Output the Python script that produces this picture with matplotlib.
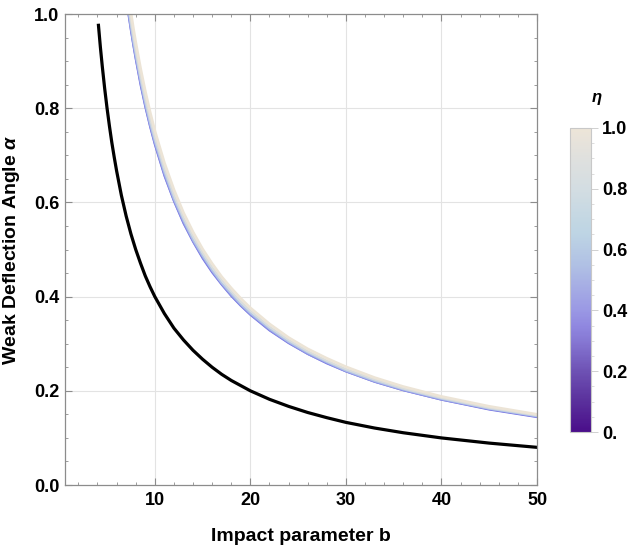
import numpy as np
import matplotlib
matplotlib.use("Agg")
from matplotlib import pyplot as plt
from matplotlib.colors import LinearSegmentedColormap, Normalize
from matplotlib.cm import ScalarMappable
from matplotlib.ticker import MultipleLocator

plt.rcParams['font.family'] = ['Liberation Sans', 'DejaVu Sans']
plt.rcParams['mathtext.fontset'] = 'custom'
plt.rcParams['mathtext.it'] = 'Liberation Sans:italic:bold'
plt.rcParams['mathtext.rm'] = 'Liberation Sans:bold'

# black curve (reference)
b_black = [4.1, 4.3, 4.5, 4.75, 5, 5.25, 5.5, 5.75, 6, 6.5, 7, 7.5, 8, 8.5, 9,
           9.5, 10, 11, 12, 13, 14, 15, 16, 17, 18, 19, 20, 22, 24, 26, 28,
           30, 33, 36, 40, 45, 50]
alpha_black = [0.976, 0.930, 0.889, 0.842, 0.800, 0.762, 0.727, 0.696, 0.667,
               0.615, 0.571, 0.533, 0.500, 0.471, 0.444, 0.421, 0.400, 0.364,
               0.333, 0.308, 0.286, 0.267, 0.250, 0.235, 0.222, 0.211, 0.200,
               0.182, 0.167, 0.154, 0.143, 0.133, 0.121, 0.111, 0.100, 0.089,
               0.080]

# coloured band, one curve per eta
b_band = [7.0, 7.25, 7.5, 7.75, 8, 8.5, 9, 9.5, 10, 11, 12, 13, 14, 15, 16,
          17, 18, 19, 20, 22, 24, 26, 28, 30, 33, 36, 40, 45, 50]
eta_vals = [0.0, 0.25, 0.5, 0.75, 1.0]
alpha_eta0 = [1.031, 0.996, 0.963, 0.932, 0.903, 0.849, 0.802, 0.760, 0.722,
              0.656, 0.602, 0.555, 0.516, 0.481, 0.451, 0.425, 0.401, 0.380,
              0.361, 0.328, 0.301, 0.278, 0.258, 0.241, 0.219, 0.201, 0.181,
              0.160, 0.144]
alpha_eta025 = [1.034, 0.999, 0.965, 0.934, 0.905, 0.852, 0.804, 0.762, 0.724,
                0.658, 0.603, 0.557, 0.517, 0.483, 0.453, 0.426, 0.402, 0.381,
                0.362, 0.329, 0.302, 0.278, 0.259, 0.241, 0.219, 0.201, 0.181,
                0.161, 0.145]
alpha_eta05 = [1.043, 1.007, 0.973, 0.942, 0.913, 0.859, 0.811, 0.768, 0.730,
               0.664, 0.608, 0.562, 0.521, 0.487, 0.456, 0.429, 0.406, 0.384,
               0.365, 0.332, 0.304, 0.281, 0.261, 0.243, 0.221, 0.203, 0.183,
               0.162, 0.146]
alpha_eta075 = [1.056, 1.019, 0.985, 0.954, 0.924, 0.869, 0.821, 0.778, 0.739,
                0.672, 0.616, 0.568, 0.528, 0.493, 0.462, 0.435, 0.411, 0.389,
                0.370, 0.336, 0.308, 0.284, 0.264, 0.246, 0.224, 0.205, 0.185,
                0.164, 0.148]
alpha_eta1 = [1.074, 1.037, 1.003, 0.970, 0.940, 0.885, 0.836, 0.792, 0.752,
              0.684, 0.627, 0.578, 0.537, 0.501, 0.470, 0.442, 0.418, 0.396,
              0.376, 0.342, 0.313, 0.289, 0.269, 0.251, 0.228, 0.209, 0.188,
              0.167, 0.150]
alpha_band = [alpha_eta0, alpha_eta025, alpha_eta05, alpha_eta075, alpha_eta1]

cmap_pos = [0.0, 0.1, 0.2, 0.3, 0.35, 0.4, 0.5, 0.55, 0.65, 0.7, 0.8, 0.9, 1.0]
cmap_cols = ['#4a0e8a', '#5a309c', '#6e52b4', '#8678d4', '#9088e0', '#9a98e4',
             '#a9b3e4', '#b0c0e4', '#bdd4e4', '#c3d7e3', '#d3dde2', '#dfe0de',
             '#ede5d8']
cmap = LinearSegmentedColormap.from_list('eta', list(zip(cmap_pos, cmap_cols)))
# colours seen along the band, bottom edge to top edge
band_cols = ['#6f6de2', '#8f95e6', '#b4c6e6', '#d8dcdc', '#ece4d6']
band_lw = [1.3, 1.3, 1.4, 1.6, 2.0]

fig = plt.figure(figsize=(6.38, 5.47), dpi=100)
ax = fig.add_axes([0.1019, 0.1133, 0.7398, 0.8611])

grid_c = '#e3e3e3'
for xv in [10, 20, 30, 40]:
    ax.axvline(xv, color=grid_c, lw=0.8, zorder=0)
for yv in [0.2, 0.4, 0.6, 0.8]:
    ax.axhline(yv, color=grid_c, lw=0.8, zorder=0)

for al, c, lw in zip(alpha_band, band_cols, band_lw):
    ax.plot(b_band, al, color=c, lw=lw, solid_joinstyle='round')
ax.plot(b_black, alpha_black, color='black', lw=2.3, solid_joinstyle='round')

ax.set_xlim(0.6, 50)
ax.set_ylim(0, 1)
ax.xaxis.set_major_locator(MultipleLocator(10))
ax.xaxis.set_minor_locator(MultipleLocator(2))
ax.yaxis.set_major_locator(MultipleLocator(0.2))
ax.yaxis.set_minor_locator(MultipleLocator(0.05))
ax.set_xticks([10, 20, 30, 40, 50])
ax.set_xticklabels(['10', '20', '30', '40', '50'])
ax.set_yticks([0, 0.2, 0.4, 0.6, 0.8, 1.0])
ax.set_yticklabels(['0.0', '0.2', '0.4', '0.6', '0.8', '1.0'])
frame_c = '#8c8c8c'
for s in ax.spines.values():
    s.set_color(frame_c)
    s.set_linewidth(0.9)
ax.tick_params(which='both', direction='in', top=True, right=True,
               color=frame_c, labelsize=13)
ax.tick_params(which='major', length=5, width=0.8)
ax.tick_params(which='minor', length=2.5, width=0.6)
ax.tick_params(axis='x', which='major', pad=5)
ax.tick_params(axis='y', which='major', pad=4)
for lab in ax.get_xticklabels() + ax.get_yticklabels():
    lab.set_fontweight('bold')

ax.set_xlabel('Impact parameter b', fontsize=14, fontweight='bold', labelpad=14)
ax.set_ylabel(r'Weak Deflection Angle $\alpha$', fontsize=14,
              fontweight='bold', labelpad=9)

cax = fig.add_axes([0.8934, 0.2102, 0.0329, 0.5558])
cb = fig.colorbar(ScalarMappable(norm=Normalize(0, 1), cmap=cmap), cax=cax)
cb.outline.set_edgecolor('#c8c8c8')
cb.outline.set_linewidth(0.8)
cb.set_ticks([0, 0.2, 0.4, 0.6, 0.8, 1.0])
cb.set_ticklabels(['0.', '0.2', '0.4', '0.6', '0.8', '1.0'])
cax.yaxis.set_minor_locator(MultipleLocator(0.05))
cax.tick_params(which='both', color='#d0d0d0', labelsize=13)
cax.tick_params(which='major', length=5, width=0.7, pad=3)
cax.tick_params(which='minor', length=2.5, width=0.5)
for lab in cax.get_yticklabels():
    lab.set_fontweight('bold')
fig.text(0.935, 0.805, r'$\eta$', fontsize=12, ha='center', va='bottom')

fig.savefig('out.png', dpi=100)
